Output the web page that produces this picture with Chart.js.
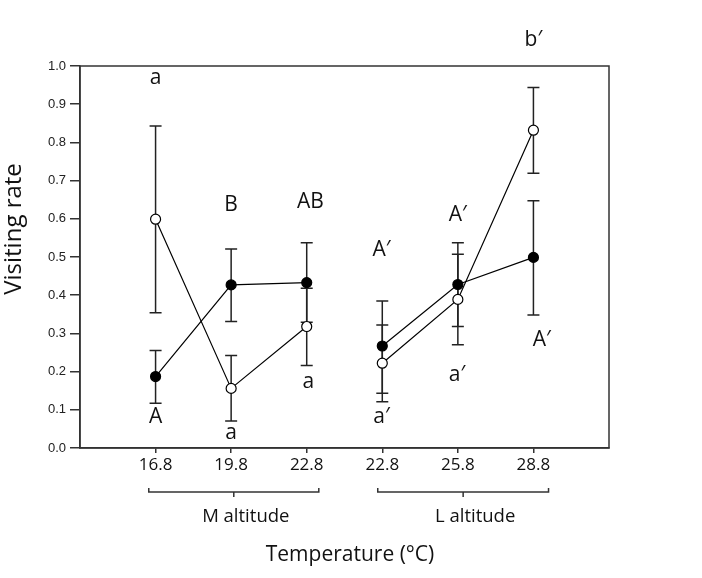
<!DOCTYPE html>
<html>
<head>
<meta charset="utf-8">
<script src="https://cdn.jsdelivr.net/npm/chart.js@4.4.1/dist/chart.umd.min.js"></script>
<style>
  html, body { margin: 0; padding: 0; background: #fff; }
  #wrap { width: 702px; height: 578px; }
</style>
</head>
<body>
<div id="wrap"><canvas id="chart" width="702" height="578"></canvas></div>
<script>
// x positions (category slots) and their tick labels
const xPos = [1, 2, 3, 4, 5, 6];
const xLabels = ['16.8', '19.8', '22.8', '22.8', '25.8', '28.8'];

// filled circles
const filledMean = [0.187, 0.427, 0.433, 0.267, 0.428, 0.499];
const filledLow  = [0.117, 0.331, 0.329, 0.143, 0.318, 0.348];
const filledHigh = [0.255, 0.521, 0.537, 0.385, 0.537, 0.647];

// open circles
const openMean = [0.599, 0.156, 0.318, 0.222, 0.389, 0.832];
const openLow  = [0.354, 0.071, 0.216, 0.121, 0.270, 0.719];
const openHigh = [0.843, 0.242, 0.418, 0.322, 0.507, 0.944];

// significance letters
const letterText = ['a', 'A', 'B', 'a', 'AB', 'a', 'A\u2032', 'a\u2032', 'A\u2032', 'a\u2032', 'A\u2032', 'b\u2032'];
const letterX = [1.0, 1.0, 2.0, 2.0, 3.05, 3.02, 3.99, 3.99, 5.0, 4.99, 6.11, 6.0];
const letterY = [0.969, 0.082, 0.636, 0.039, 0.645, 0.174, 0.518, 0.082, 0.610, 0.191, 0.283, 1.068];

// altitude groups under the axis
const groupNames = ['M altitude', 'L altitude'];
const groupFrom = [0.91, 3.94];
const groupTo = [3.16, 6.2];

const ink = '#222';

function pts(arr, from, to) {
    const out = [];
    for (let i = from; i < to; i++) out.push({ x: xPos[i], y: arr[i] });
    return out;
}

function lineSet(data, fill) {
    return {
        data: data,
        borderColor: '#000',
        borderWidth: 1.2,
        backgroundColor: fill,
        pointBackgroundColor: fill,
        pointBorderColor: '#000',
        pointBorderWidth: 1.2,
        pointRadius: 5,
        showLine: true,
        tension: 0
    };
}

const extras = {
    id: 'extras',
    beforeDatasetsDraw(chart) {
        const ctx = chart.ctx;
        const xs = chart.scales.x, ys = chart.scales.y;
        ctx.save();
        ctx.strokeStyle = ink;
        ctx.lineWidth = 1.5;
        const bars = [[filledLow, filledHigh], [openLow, openHigh]];
        bars.forEach(([lo, hi]) => {
            for (let i = 0; i < xPos.length; i++) {
                const px = xs.getPixelForValue(xPos[i]);
                const y1 = ys.getPixelForValue(lo[i]);
                const y2 = ys.getPixelForValue(hi[i]);
                ctx.beginPath();
                ctx.moveTo(px, y1); ctx.lineTo(px, y2);
                ctx.moveTo(px - 6, y1); ctx.lineTo(px + 6, y1);
                ctx.moveTo(px - 6, y2); ctx.lineTo(px + 6, y2);
                ctx.stroke();
            }
        });
        ctx.restore();
    },
    afterDraw(chart) {
        const ctx = chart.ctx;
        const a = chart.chartArea;
        const xs = chart.scales.x, ys = chart.scales.y;
        ctx.save();
        // frame
        ctx.strokeStyle = '#333';
        ctx.lineWidth = 1.5;
        ctx.strokeRect(a.left, a.top, a.right - a.left, a.bottom - a.top);

        // letters
        ctx.fillStyle = '#111';
        ctx.font = '21px "Open Sans"';
        ctx.textAlign = 'center';
        ctx.textBaseline = 'middle';
        letterText.forEach((t, i) => {
            ctx.fillText(t, xs.getPixelForValue(letterX[i]), ys.getPixelForValue(letterY[i]));
        });

        // group brackets
        ctx.strokeStyle = '#333';
        ctx.lineWidth = 1.5;
        const by = a.bottom + 44;
        ctx.font = '18.5px "Open Sans"';
        groupNames.forEach((name, i) => {
            const x1 = xs.getPixelForValue(groupFrom[i]);
            const x2 = xs.getPixelForValue(groupTo[i]);
            const xm = (x1 + x2) / 2;
            ctx.beginPath();
            ctx.moveTo(x1, by - 4); ctx.lineTo(x1, by); ctx.lineTo(x2, by); ctx.lineTo(x2, by - 4);
            ctx.moveTo(xm, by); ctx.lineTo(xm, by + 5);
            ctx.stroke();
            ctx.fillText(name, xm + 12, a.bottom + 69);
        });

        // axis titles
        ctx.font = '21px "Open Sans"';
        ctx.fillText('Temperature (\u00B0C)', 350, a.bottom + 107);
        ctx.font = '24px "Open Sans"';
        ctx.translate(14, 229);
        ctx.rotate(-Math.PI / 2);
        ctx.fillText('Visiting rate', 0, 0);
        ctx.restore();
    }
};

new Chart(document.getElementById('chart'), {
    type: 'scatter',
    data: {
        datasets: [
            lineSet(pts(openMean, 0, 3), '#fff'),
            lineSet(pts(openMean, 3, 6), '#fff'),
            lineSet(pts(filledMean, 0, 3), '#000'),
            lineSet(pts(filledMean, 3, 6), '#000')
        ]
    },
    options: {
        responsive: false,
        animation: false,
        layout: { padding: { top: 66, right: 93, bottom: 0, left: 0 } },
        plugins: { legend: { display: false }, tooltip: { enabled: false } },
        scales: {
            x: {
                type: 'linear',
                min: 0,
                max: 7,
                afterBuildTicks: s => { s.ticks = xPos.map(v => ({ value: v })); },
                afterFit: s => { s.height = 130; },
                border: { color: '#333', width: 1.5 },
                grid: { drawOnChartArea: false, tickLength: 5, color: '#333', lineWidth: 1.5 },
                ticks: {
                    color: '#111',
                    font: { family: '"Open Sans"', size: 17 },
                    padding: 2,
                    maxRotation: 0,
                    callback: v => xLabels[xPos.indexOf(v)] || ''
                }
            },
            y: {
                min: 0,
                max: 1,
                afterFit: s => { s.width = 80; },
                border: { color: '#333', width: 1.5 },
                grid: { drawOnChartArea: false, tickLength: 10, color: '#333', lineWidth: 1.5 },
                ticks: {
                    stepSize: 0.1,
                    color: '#222',
                    font: { family: '"Liberation Sans"', size: 13 },
                    padding: 4,
                    callback: v => v.toFixed(1)
                }
            }
        }
    },
    plugins: [extras]
});
</script>
</body>
</html>
